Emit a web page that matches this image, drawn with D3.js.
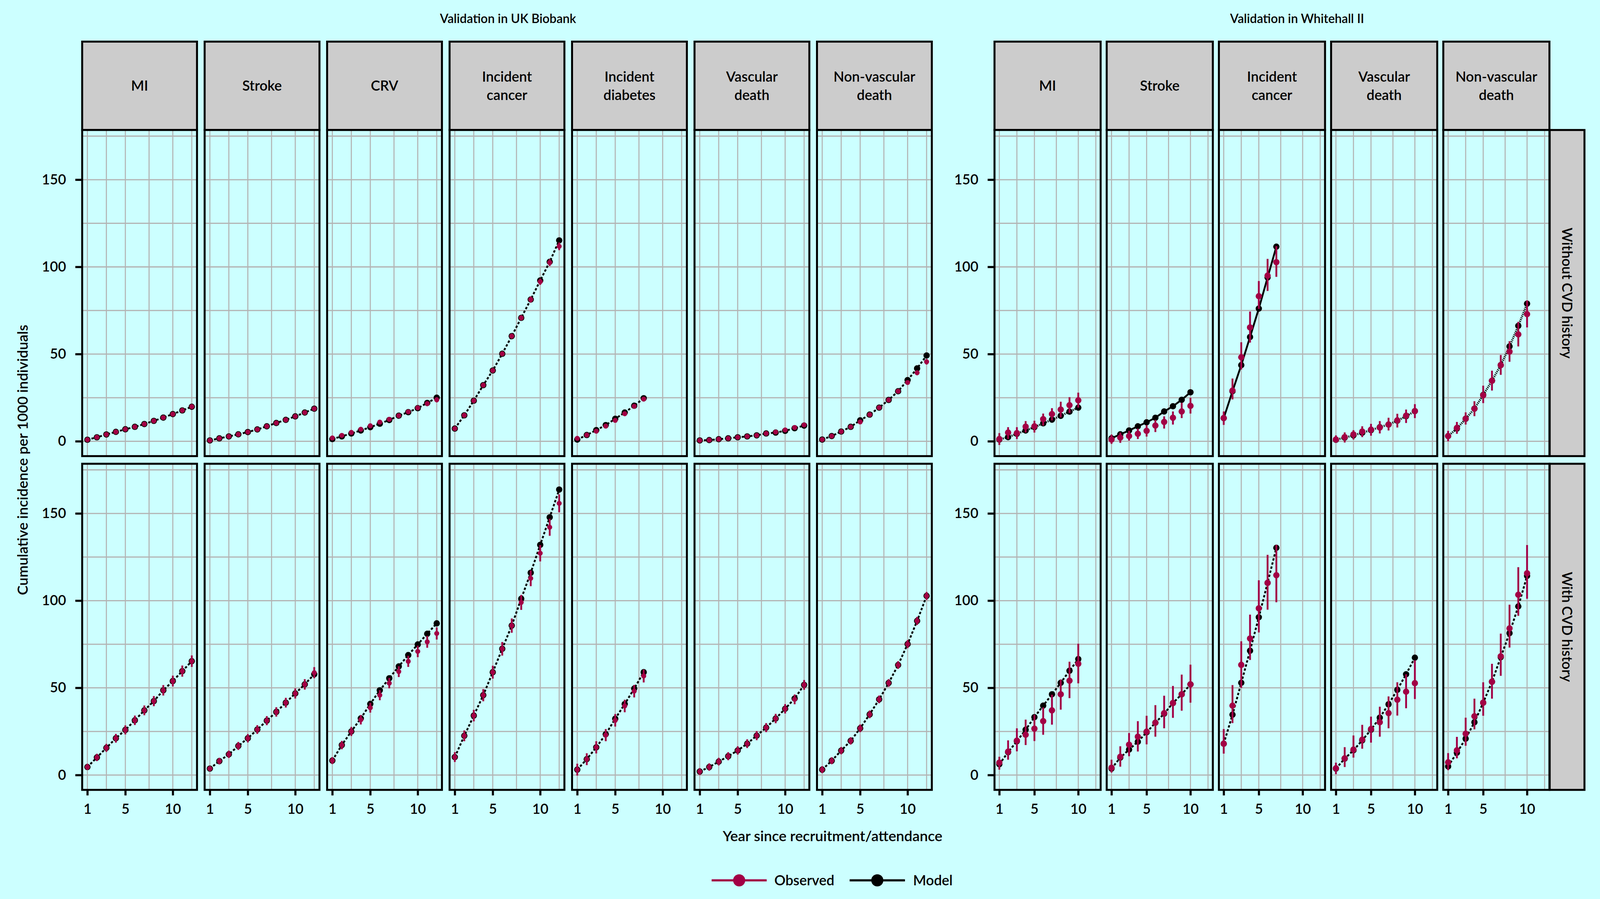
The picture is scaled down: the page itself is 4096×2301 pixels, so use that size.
<!DOCTYPE html>
<html><head><meta charset="utf-8">
<script src="https://cdn.jsdelivr.net/npm/d3@7"></script>
<style>
html,body{margin:0;padding:0;background:#CCFFFF;overflow:hidden}
text{font-family:Lato,"Liberation Sans",Arial,sans-serif;font-weight:600;fill:#000}
</style>
</head><body><svg id="chart"></svg>
<script>
// ---------------- DATA ----------------
const ukbStrips = ["MI","Stroke","CRV","Incident\ncancer","Incident\ndiabetes","Vascular\ndeath","Non-vascular\ndeath"];
const wiiStrips = ["MI","Stroke","Incident\ncancer","Vascular\ndeath","Non-vascular\ndeath"];
const historyRows = ["Without CVD history","With CVD history"];
const yearsAll = [1,2,3,4,5,6,7,8,9,10,11,12];
const xTickValues = [1,5,10];
const yTickValues = [0,50,100,150];
const xGridValues = [1,3,5,7.5,10,12];
const yGridValues = [0,25,50,75,100,125,150,175];
const legendLabels = ["Observed","Model"];

// UK Biobank, without CVD history (MI, Stroke, CRV, Cancer, Diabetes, Vascular death, Non-vascular death)
const ukbWithoutObs = [
 [0.9,2.3,3.9,5.4,6.9,8.3,9.9,11.7,13.6,15.6,17.7,19.9],
 [0.5,1.7,2.8,4.0,5.3,6.8,8.6,10.5,12.3,14.3,16.5,18.7],
 [1.9,3.4,5.1,6.9,8.9,11.0,12.6,14.7,16.9,19.2,21.6,23.8],
 [7.3,14.9,23.3,32.2,40.6,50.2,60.3,70.8,81.3,91.5,102.5,111.8],
 [1.7,3.6,5.8,8.7,12.0,15.8,20.1,24.2],
 [0.5,0.7,1.2,1.7,2.3,2.8,3.4,4.5,5.3,6.5,7.9,9.4],
 [1.0,3.0,5.6,8.3,11.1,15.3,19.3,23.7,28.7,33.7,39.3,45.6]];
const ukbWithoutLo = [
 [0.6,1.8,3.3,4.7,6.1,7.5,9.0,10.7,12.6,14.5,16.5,18.6],
 [0.3,1.3,2.3,3.4,4.6,6.0,7.8,9.6,11.4,13.3,15.4,17.5],
 [1.6,2.9,4.5,6.2,8.1,10.1,11.6,13.6,15.7,17.9,20.2,22.3],
 [6.9,14.3,22.5,31.3,39.5,49.0,58.9,69.3,79.6,89.7,100.5,109.6],
 [1.4,3.2,5.3,8.1,11.3,15.0,19.1,23.0],
 [0.4,0.6,1.0,1.5,2.0,2.5,3.0,4.0,4.8,5.9,7.2,8.6],
 [0.8,2.7,5.2,7.8,10.5,14.6,18.5,22.8,27.6,32.5,37.9,44.0]];
const ukbWithoutHi = [
 [1.2,2.8,4.5,6.1,7.7,9.1,10.8,12.7,14.6,16.7,18.9,21.2],
 [0.7,2.1,3.3,4.6,6.0,7.6,9.4,11.4,13.2,15.3,17.6,19.9],
 [2.2,3.9,5.7,7.6,9.7,11.9,13.6,15.8,18.1,20.5,23.0,25.3],
 [7.7,15.5,24.1,33.1,41.7,51.4,61.7,72.3,83.0,93.3,104.5,114.0],
 [2.0,4.0,6.3,9.3,12.7,16.6,21.1,25.4],
 [0.6,0.8,1.4,1.9,2.6,3.1,3.8,5.0,5.8,7.1,8.6,10.2],
 [1.2,3.3,6.0,8.8,11.7,16.0,20.1,24.6,29.8,34.9,40.7,47.2]];
const ukbWithoutModel = [
 [0.9,2.3,3.9,5.4,6.9,8.3,9.9,11.7,13.6,15.6,17.7,19.8],
 [0.5,1.7,2.8,4.0,5.3,6.8,8.6,10.5,12.3,14.3,16.5,18.7],
 [1.3,2.8,4.5,6.2,8.1,10.1,12.2,14.7,16.7,19.0,22.0,25.0],
 [7.3,14.9,23.3,32.2,40.6,50.2,60.3,70.8,81.3,92.2,102.9,115.2],
 [1.0,3.6,6.4,9.3,12.9,16.5,20.4,24.7],
 [0.5,0.7,1.2,1.7,2.3,2.8,3.4,4.5,5.0,6.0,7.5,9.0],
 [1.0,3.0,5.6,8.3,12.0,15.3,19.3,23.7,28.7,35.1,41.8,49.2]];

// UK Biobank, with CVD history
const ukbWithObs = [
 [4.6,10.1,15.6,21.1,25.9,31.4,37.1,42.4,48.6,53.9,59.6,65.3],
 [3.7,8.0,11.9,16.7,21.1,26.1,31.2,36.2,41.5,46.8,52.0,58.7],
 [8.3,17.2,25.0,31.7,38.6,45.8,52.7,59.3,65.2,70.9,76.4,81.2],
 [10.3,22.5,34.1,45.8,59.0,72.4,85.7,99.0,112.8,127.2,142.1,155.8],
 [3.1,9.1,15.9,22.9,31.4,39.6,48.1,56.8],
 [2.0,4.6,7.7,10.8,14.1,18.0,22.6,27.2,32.4,38.0,43.4,51.7],
 [3.1,8.2,14.0,19.6,26.8,34.8,43.4,52.8,63.1,75.1,88.4,102.7]];
const ukbWithLo = [
 [2.9,8.0,13.3,18.6,23.3,28.7,34.3,39.5,45.6,50.8,56.4,62.0],
 [2.2,6.1,9.8,14.4,18.7,23.6,28.6,33.5,38.7,43.9,49.0,55.5],
 [6.3,14.8,22.4,29.0,35.8,42.9,49.7,56.2,62.0,67.6,73.0,77.7],
 [7.5,19.4,30.8,42.3,55.3,68.5,81.6,94.7,108.3,122.5,137.2,150.7],
 [-0.3,5.7,12.4,19.4,27.8,36.0,44.5,53.1],
 [0.0,2.5,5.5,8.5,11.7,15.5,20.0,24.6,29.7,35.3,40.6,48.9],
 [1.1,6.2,11.9,17.5,24.6,32.6,41.2,50.6,60.9,72.8,86.1,100.4]];
const ukbWithHi = [
 [6.5,12.2,17.9,23.6,28.5,34.1,39.9,45.3,51.6,57.0,62.8,68.6],
 [5.2,9.9,14.0,19.0,23.5,28.6,33.8,38.9,44.3,49.7,55.0,61.9],
 [10.3,19.6,27.6,34.4,41.4,48.7,55.7,62.4,68.4,74.2,79.8,84.7],
 [13.1,25.6,37.4,49.3,62.7,76.3,89.8,103.3,117.3,131.9,147.0,160.9],
 [6.5,12.5,19.4,26.4,35.0,43.2,51.7,60.5],
 [4.0,6.7,9.9,13.1,16.5,20.5,25.2,29.8,35.1,40.7,46.2,54.5],
 [5.1,10.2,16.1,21.7,29.0,37.0,45.6,55.0,65.3,77.4,90.7,105.0]];
const ukbWithModel = [
 [4.6,10.1,15.6,21.1,25.9,31.4,37.1,42.4,48.6,53.9,59.6,65.3],
 [3.7,8.0,11.9,16.7,21.1,26.1,31.2,36.2,41.5,46.8,52.0,57.8],
 [8.3,17.2,25.0,32.5,40.8,48.6,55.5,62.3,68.8,74.9,81.0,87.0],
 [10.3,22.5,34.1,45.8,59.0,72.4,85.7,101.1,116.0,132.0,147.8,163.7],
 [3.1,9.1,15.9,23.4,32.3,40.7,49.6,59.0],
 [2.0,4.6,7.7,10.8,14.1,18.0,22.6,27.2,32.4,38.0,43.9,51.7],
 [3.1,8.2,14.0,19.6,26.8,34.8,43.4,52.8,63.1,75.1,88.4,102.7]];

// Whitehall II, without CVD history (MI, Stroke, Cancer, Vascular death, Non-vascular death)
const wiiWithoutObs = [
 [1.3,5.0,4.7,8.4,8.6,12.7,15.6,18.2,20.7,23.5],
 [1.0,2.1,3.0,4.3,6.0,9.0,11.1,13.5,17.1,20.3],
 [13.3,29.1,48.2,65.3,83.2,95.0,102.7],
 [1.0,2.4,3.9,5.6,6.7,7.9,9.6,12.0,14.7,17.3],
 [3.0,7.7,13.0,18.7,26.4,34.7,43.7,51.4,61.3,72.9]];
const wiiWithoutLo = [
 [-2.1,1.3,1.3,5.0,5.0,9.0,12.0,13.7,16.3,19.3],
 [-1.5,-0.9,0.4,1.3,2.7,5.3,7.3,9.6,13.3,15.9],
 [9.4,24.0,41.2,56.6,75.9,86.2,94.3],
 [-0.9,-0.7,1.0,2.4,3.2,4.5,6.2,7.9,10.5,13.3],
 [0.0,4.3,9.6,14.4,21.9,29.1,38.1,45.6,54.4,65.3]];
const wiiWithoutHi = [
 [4.7,8.1,8.1,11.6,11.8,15.9,19.0,22.7,25.3,27.9],
 [3.9,5.0,6.0,7.3,9.3,12.3,14.3,17.1,22.1,24.9],
 [17.1,36.0,56.8,74.4,91.9,104.6,111.9],
 [3.4,5.1,6.4,8.6,10.0,11.6,13.5,15.8,18.2,21.3],
 [6.0,11.1,16.6,23.0,31.9,40.5,49.5,57.4,68.5,80.8]];
const wiiWithoutModel = [
 [1.0,2.4,4.3,6.2,8.1,10.3,12.4,14.6,17.0,19.3],
 [1.7,4.0,6.2,8.6,10.9,13.5,17.1,20.1,23.8,28.1],
 [13.3,28.7,43.7,59.8,76.1,93.9,111.6],
 [0.9,2.1,3.4,4.9,6.4,8.1,9.6,11.8,14.4,17.3],
 [3.0,7.3,12.9,18.7,26.6,34.7,43.7,54.4,66.2,78.9]];

// Whitehall II, with CVD history
const wiiWithObs = [
 [7.1,13.4,19.7,23.1,26.6,30.9,37.1,46.3,54.1,63.8],
 [4.2,10.5,17.4,22.0,24.9,30.0,35.5,41.3,46.3,52.0],
 [18.0,39.8,63.2,78.3,95.6,110.2,114.6],
 [3.9,9.6,14.6,20.3,26.4,30.3,35.5,43.2,47.8,52.7],
 [7.3,14.2,23.7,33.7,41.5,53.5,68.1,84.1,103.4,115.7]];
const wiiWithLo = [
 [3.1,8.8,13.6,17.2,19.5,23.1,28.9,37.5,44.1,52.6],
 [1.4,4.8,10.8,13.5,17.6,22.0,26.8,32.8,36.9,41.5],
 [12.3,29.8,50.0,66.0,81.8,94.8,99.1],
 [0.5,4.6,10.0,15.1,18.6,22.0,26.8,34.1,38.3,43.6],
 [2.8,9.6,16.8,26.2,34.0,43.8,56.9,73.1,91.3,101.1]];
const wiiWithHi = [
 [10.5,19.9,26.8,31.8,34.6,38.8,46.1,54.8,65.0,75.3],
 [8.8,16.5,24.1,30.9,34.0,40.1,45.5,51.1,57.6,63.3],
 [26.4,51.6,76.7,92.0,111.7,126.3,132.0],
 [7.1,16.0,22.7,28.8,33.5,39.2,45.1,53.2,57.8,65.8],
 [12.6,21.9,32.9,43.8,53.2,63.8,81.1,97.7,119.2,131.9]];
const wiiWithModel = [
 [6.2,13.1,19.4,26.0,33.2,39.8,46.3,52.9,59.8,66.5],
 [3.7,10.0,14.6,19.1,24.5,30.0,35.2,41.3,46.3,52.0],
 [18.0,34.6,52.9,71.3,90.5,110.2,130.3],
 [3.7,9.4,14.2,19.9,26.0,32.9,40.6,48.9,57.8,67.3],
 [5.0,12.8,20.9,30.3,41.5,53.5,67.6,81.4,96.7,114.2]];

// model line type per panel
const ukbLineTypes = [["dashed","dashed","dashed","dashed","dashed","dashed","dashed"],
                      ["dashed","dashed","dashed","dashed","dashed","dashed","dashed"]];
const wiiLineTypes = [["dotted","solid","solid","dotted","dotted"],
                      ["dashed","dashed","dashed","dashed","dashed"]];

// ---------------- DRAWING ----------------
const S = 4096/6075;
const OBS = "#A20045", GRID = "#B3B3B3", BG = "#CCFFFF", STRIP = "#CCCCCC";
const FS = 53;
const svg = d3.select("#chart").attr("width",4096).attr("height",2301);
svg.append("rect").attr("width",4096).attr("height",2301).attr("fill",BG);
const root = svg.append("g").attr("transform",`scale(${S})`);

const rows = [{y0:493.5,y1:1731.5},{y0:1760.5,y1:2998.5}];
const stripTop = 158;
const BORDER = 7.5;
const lineStyles = {
  dashed:{dash:"9,7", w:7},
  dotted:{dash:"3.5,3.5", w:8},
  solid:{dash:null, w:7}
};

const cohorts = [
  {title:"Validation in UK Biobank", titleX:1929, x0:312, pitch:465, w:436, strips:ukbStrips,
   obs:[ukbWithoutObs,ukbWithObs], lo:[ukbWithoutLo,ukbWithLo], hi:[ukbWithoutHi,ukbWithHi],
   model:[ukbWithoutModel,ukbWithModel], lt:ukbLineTypes, rObs:9.5, rModel:12, rightStrip:false},
  {title:"Validation in Whitehall II", titleX:4925, x0:3776, pitch:426, w:403, strips:wiiStrips,
   obs:[wiiWithoutObs,wiiWithObs], lo:[wiiWithoutLo,wiiWithLo], hi:[wiiWithoutHi,wiiWithHi],
   model:[wiiWithoutModel,wiiWithModel], lt:wiiLineTypes, rObs:12, rModel:12, rightStrip:true}
];

cohorts.forEach(c => {
  root.append("text").attr("x",c.titleX).attr("y",70).attr("dy","0.36em")
    .attr("text-anchor","middle").attr("font-size",47).text(c.title);

  c.strips.forEach((lab, j) => {
    const px0 = c.x0 + j*c.pitch, px1 = px0 + c.w;
    const x = d3.scaleLinear().domain([0.45,12.55]).range([px0,px1]);

    // top strip
    const sg = root.append("g");
    sg.append("rect").attr("x",px0).attr("y",stripTop).attr("width",c.w).attr("height",rows[0].y0-stripTop)
      .attr("fill",STRIP).attr("stroke","#000").attr("stroke-width",BORDER);
    const lines = lab.split("\n");
    const cy = (stripTop + rows[0].y0)/2;
    lines.forEach((ln,k) => {
      sg.append("text").attr("x",(px0+px1)/2).attr("y", cy + (k-(lines.length-1)/2)*69)
        .attr("dy","0.36em").attr("text-anchor","middle").attr("font-size",FS).text(ln);
    });

    rows.forEach((r, ri) => {
      const y = d3.scaleLinear().domain([-8.5,178.5]).range([r.y1,r.y0]);
      const g = root.append("g");
      g.append("rect").attr("x",px0).attr("y",r.y0).attr("width",c.w).attr("height",r.y1-r.y0).attr("fill",BG);
      // grid
      g.selectAll(".gx").data(xGridValues).join("line")
        .attr("x1",d=>x(d)).attr("x2",d=>x(d)).attr("y1",r.y0).attr("y2",r.y1)
        .attr("stroke",GRID).attr("stroke-width",4);
      g.selectAll(".gy").data(yGridValues).join("line")
        .attr("y1",d=>y(d)).attr("y2",d=>y(d)).attr("x1",px0).attr("x2",px1)
        .attr("stroke",GRID).attr("stroke-width",4.5);

      const obs = c.obs[ri][j], lo = c.lo[ri][j], hi = c.hi[ri][j], mod = c.model[ri][j];
      const yrs = yearsAll.slice(0, obs.length);
      const ls = lineStyles[c.lt[ri][j]];
      const line = d3.line().x((d,i)=>x(yrs[i])).y(d=>y(d));
      const path = g.append("path").attr("d",line(mod)).attr("fill","none")
        .attr("stroke","#000").attr("stroke-width",ls.w);
      if (ls.dash) path.attr("stroke-dasharray",ls.dash);
      g.selectAll(".mp").data(mod).join("circle")
        .attr("cx",(d,i)=>x(yrs[i])).attr("cy",d=>y(d)).attr("r",c.rModel).attr("fill","#000");
      g.selectAll(".ci").data(obs).join("line")
        .attr("x1",(d,i)=>x(yrs[i])).attr("x2",(d,i)=>x(yrs[i]))
        .attr("y1",(d,i)=>y(lo[i])).attr("y2",(d,i)=>y(hi[i]))
        .attr("stroke",OBS).attr("stroke-width",7);
      g.selectAll(".op").data(obs).join("circle")
        .attr("cx",(d,i)=>x(yrs[i])).attr("cy",d=>y(d)).attr("r",c.rObs).attr("fill",OBS);

      g.append("rect").attr("x",px0).attr("y",r.y0).attr("width",c.w).attr("height",r.y1-r.y0)
        .attr("fill","none").attr("stroke","#000").attr("stroke-width",BORDER);

      // y axis on first panel
      if (j === 0) {
        const ax = root.append("g").attr("transform",`translate(${px0},0)`)
          .call(d3.axisLeft(y).tickValues(yTickValues).tickSize(26).tickPadding(35).tickFormat(d3.format("d")));
        ax.select(".domain").remove();
        ax.selectAll(".tick line").attr("stroke","#000").attr("stroke-width",8);
        ax.selectAll(".tick text").attr("font-size",FS).attr("fill","#000");
        ax.attr("font-family",null).attr("font-size",null);
      }
      // x axis on bottom row
      if (ri === rows.length-1) {
        const ax = root.append("g").attr("transform",`translate(0,${r.y1})`)
          .call(d3.axisBottom(x).tickValues(xTickValues).tickSize(21).tickPadding(32).tickFormat(d3.format("d")));
        ax.select(".domain").remove();
        ax.selectAll(".tick line").attr("stroke","#000").attr("stroke-width",8);
        ax.selectAll(".tick text").attr("font-size",FS).attr("fill","#000");
        ax.attr("font-family",null).attr("font-size",null);
      }
    });
  });

  if (c.rightStrip) {
    const sx0 = c.x0 + (c.strips.length-1)*c.pitch + c.w + 1;
    const sw = 132;
    rows.forEach((r, ri) => {
      root.append("rect").attr("x",sx0).attr("y",r.y0).attr("width",sw).attr("height",r.y1-r.y0)
        .attr("fill",STRIP).attr("stroke","#000").attr("stroke-width",BORDER);
      root.append("text")
        .attr("transform",`translate(${sx0+sw/2},${(r.y0+r.y1)/2}) rotate(90)`)
        .attr("dy","0.36em").attr("text-anchor","middle").attr("font-size",FS).text(historyRows[ri]);
    });
  }
});

// axis titles
root.append("text").attr("transform",`translate(85,1746) rotate(-90)`).attr("dy","0.36em")
  .attr("text-anchor","middle").attr("font-size",55).text("Cumulative incidence per 1000 individuals");
root.append("text").attr("x",3161).attr("y",3173).attr("dy","0.36em")
  .attr("text-anchor","middle").attr("font-size",55).text("Year since recruitment/attendance");

// legend
const legendItems = [{x1:2702,x2:2911,color:OBS,tx:2940},{x1:3226,x2:3436,color:"#000",tx:3467}];
legendItems.forEach((it,i) => {
  const lg = root.append("g");
  lg.append("line").attr("x1",it.x1).attr("x2",it.x2).attr("y1",3342).attr("y2",3342)
    .attr("stroke",it.color).attr("stroke-width",8);
  lg.append("circle").attr("cx",(it.x1+it.x2)/2).attr("cy",3342).attr("r",23).attr("fill",it.color);
  lg.append("text").attr("x",it.tx).attr("y",3342).attr("dy","0.36em").attr("font-size",FS).text(legendLabels[i]);
});
</script></body></html>
